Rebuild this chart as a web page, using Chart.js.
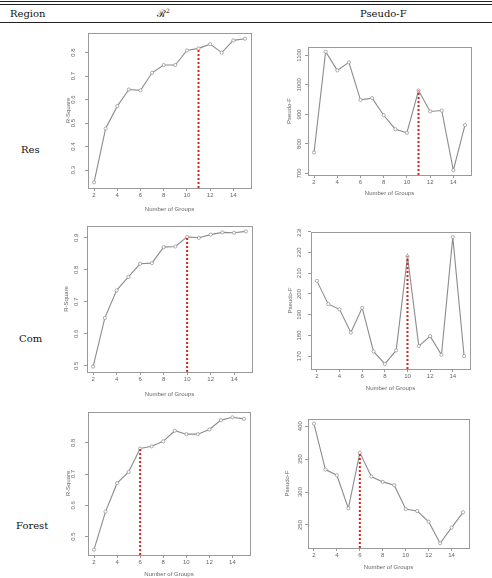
<!DOCTYPE html>
<html>
<head>
<meta charset="utf-8">
<script src="https://cdn.jsdelivr.net/npm/chart.js@4.4.1/dist/chart.umd.min.js"></script>
<style>
  body { margin: 0; background: #fff; }
  #page { position: relative; width: 492px; height: 578px; overflow: hidden; font-family: "DejaVu Serif", "Liberation Serif", serif; }
  .rule { position: absolute; left: 0; width: 492px; background: #222; }
  .hdr, .row { position: absolute; font-size: 10px; color: #111; line-height: 1; }
  canvas { position: absolute; }
</style>
</head>
<body>
<div id="page">
  <div class="rule" style="top:1px;height:1px"></div>
  <div class="rule" style="top:4px;height:1px"></div>
  <div class="rule" style="top:22px;height:1px"></div>
  <div class="hdr" style="left:10px;top:9px">Region</div>
  <div class="hdr" style="left:157px;top:8px">ℛ<sup style="font-size:6px">2</sup></div>
  <div class="hdr" style="left:360px;top:9px">Pseudo-F</div>
  <div class="row" style="left:21px;top:145px">Res</div>
  <div class="row" style="left:19px;top:334px">Com</div>
  <div class="row" style="left:16px;top:521px">Forest</div>
</div>
<script>
// number of groups on the x axis
const groups = [2, 3, 4, 5, 6, 7, 8, 9, 10, 11, 12, 13, 14, 15];
const xTicks = [2, 4, 6, 8, 10, 12, 14];

// values
const resRsq = [0.248, 0.477, 0.572, 0.643, 0.639, 0.714, 0.747, 0.747, 0.809, 0.818, 0.836, 0.800, 0.852, 0.859];
const resPF = [771, 1112, 1049, 1076, 949, 955, 897, 850, 838, 981, 910, 913, 711, 864];
const comRsq = [0.498, 0.650, 0.736, 0.778, 0.819, 0.821, 0.871, 0.873, 0.903, 0.900, 0.910, 0.917, 0.916, 0.920];
const comPF = [206.3, 195.1, 192.6, 181.4, 193.3, 172.3, 166.3, 172.8, 218.1, 174.9, 179.7, 170.7, 227.4, 170.0];
const forRsq = [0.458, 0.580, 0.671, 0.707, 0.782, 0.789, 0.805, 0.839, 0.828, 0.828, 0.843, 0.873, 0.882, 0.877];
const forPF = [403.6, 334.1, 325.5, 275.2, 359.8, 323.6, 315.4, 310.4, 274.2, 271.1, 255.0, 222.3, 246.0, 269.2];

// chosen number of groups per region
const bestRes = 11, bestCom = 10, bestFor = 6;

// y tick labels
const resRsqTicks = [0.3, 0.4, 0.5, 0.6, 0.7, 0.8];
const resPFTicks = [700, 800, 900, 1000, 1100];
const comRsqTicks = [0.5, 0.6, 0.7, 0.8, 0.9];
const comPFTicks = [170, 180, 190, 200, 210, 220, 230];
const forRsqTicks = [0.5, 0.6, 0.7, 0.8];
const forPFTicks = [250, 300, 350, 400];

const page = document.getElementById('page');
const FS = 6;            // tick / axis font size
const LH = FS * 1.2;
const grey = '#666';

// R style 4% range padding
function range(vals) {
  const lo = Math.min(...vals), hi = Math.max(...vals);
  const pad = (hi - lo) * 0.04;
  return [lo - pad, hi + pad];
}

// draws the box and rotated y tick labels like base R
const rPlot = {
  id: 'rPlot',
  afterDraw(chart, args, opts) {
    const { ctx, chartArea: a } = chart;
    ctx.save();
    ctx.strokeStyle = '#9a9a9a';
    ctx.lineWidth = 1;
    ctx.strokeRect(Math.round(a.left) + 0.5, Math.round(a.top) + 0.5, Math.round(a.right - a.left), Math.round(a.bottom - a.top));
    const y = chart.scales.y;
    ctx.fillStyle = grey;
    ctx.font = FS + 'px "Liberation Sans", Arial, sans-serif';
    ctx.textAlign = 'center';
    ctx.textBaseline = 'middle';
    opts.ticks.forEach(v => {
      const py = y.getPixelForValue(v);
      ctx.save();
      ctx.translate(opts.labelX, py);
      ctx.rotate(-Math.PI / 2);
      ctx.fillText(String(v), 0, 0);
      ctx.restore();
    });
    ctx.restore();
  }
};

function makeChart(frame, labelX, titleX, xTitleY, vals, yTicks, yTitle, best) {
  const [l, t, r, b] = frame;
  const cLeft = Math.round(titleX - LH / 2);
  const cTop = t - 3;
  const w = r + 3 - cLeft;
  const h = xTitleY + Math.ceil(LH / 2) - cTop;
  const padL = l - cLeft;
  const padB = (xTitleY + Math.ceil(LH / 2)) - b;

  const canvas = document.createElement('canvas');
  canvas.width = w; canvas.height = h;
  canvas.style.left = cLeft + 'px';
  canvas.style.top = cTop + 'px';
  canvas.style.width = w + 'px';
  canvas.style.height = h + 'px';
  page.appendChild(canvas);

  const [ymin, ymax] = range(vals);
  const pts = groups.map((g, i) => ({ x: g, y: vals[i] }));
  const bestVal = vals[groups.indexOf(best)];
  const tickFont = { size: FS, family: '"Liberation Sans", Arial, sans-serif' };

  new Chart(canvas, {
    type: 'line',
    data: {
      datasets: [
        {
          data: [{ x: best, y: ymin }, { x: best, y: bestVal }],
          borderColor: '#e0201b',
          borderWidth: 2,
          borderDash: [2, 2],
          pointRadius: 0
        },
        {
          data: pts,
          borderColor: '#8c8c8c',
          borderWidth: 1.1,
          pointRadius: 1.6,
          pointBorderWidth: 0.7,
          pointBorderColor: '#8c8c8c',
          pointBackgroundColor: '#fff',
          tension: 0
        }
      ]
    },
    options: {
      responsive: false,
      animation: false,
      devicePixelRatio: 1,
      layout: { autoPadding: false, padding: { top: 3, right: 3, left: 0, bottom: 0 } },
      plugins: {
        legend: { display: false },
        tooltip: { enabled: false },
        rPlot: { ticks: yTicks, labelX: labelX - cLeft }
      },
      scales: {
        x: {
          type: 'linear',
          min: 1.48, max: 15.52,
          afterBuildTicks: s => { s.ticks = xTicks.map(v => ({ value: v })); },
          afterFit: s => { s.height = padB; },
          grid: { drawOnChartArea: false, drawTicks: true, tickLength: 3, color: '#9a9a9a' },
          border: { display: false },
          ticks: { color: grey, font: tickFont, padding: 1, maxRotation: 0, autoSkip: false },
          title: { display: true, text: 'Number of Groups', color: grey, font: tickFont, padding: 0 }
        },
        y: {
          type: 'linear',
          min: ymin, max: ymax,
          afterBuildTicks: s => { s.ticks = yTicks.map(v => ({ value: v })); },
          afterFit: s => { s.width = padL; },
          grid: { drawOnChartArea: false, drawTicks: true, tickLength: 3, color: '#9a9a9a' },
          border: { display: false },
          ticks: { display: false },
          title: { display: true, text: yTitle, color: grey, font: tickFont, padding: 0 }
        }
      }
    },
    plugins: [rPlot]
  });
}

makeChart([88, 33, 251, 188], 73, 69, 209, resRsq, resRsqTicks, 'R-Square', bestRes);
makeChart([308, 47, 471, 175], 299, 290, 193, resPF, resPFTicks, 'Pseudo-F', bestRes);
makeChart([87, 226, 252, 372], 76, 67, 394, comRsq, comRsqTicks, 'R-Square', bestCom);
makeChart([311, 232, 470, 369], 299, 291, 388, comPF, comPFTicks, 'Pseudo-F', bestCom);
makeChart([88, 412, 250, 555], 73, 69, 574, forRsq, forRsqTicks, 'R-Square', bestFor);
makeChart([308, 419, 469, 548], 300, 288, 567, forPF, forPFTicks, 'Pseudo-F', bestFor);
</script>
</body>
</html>
